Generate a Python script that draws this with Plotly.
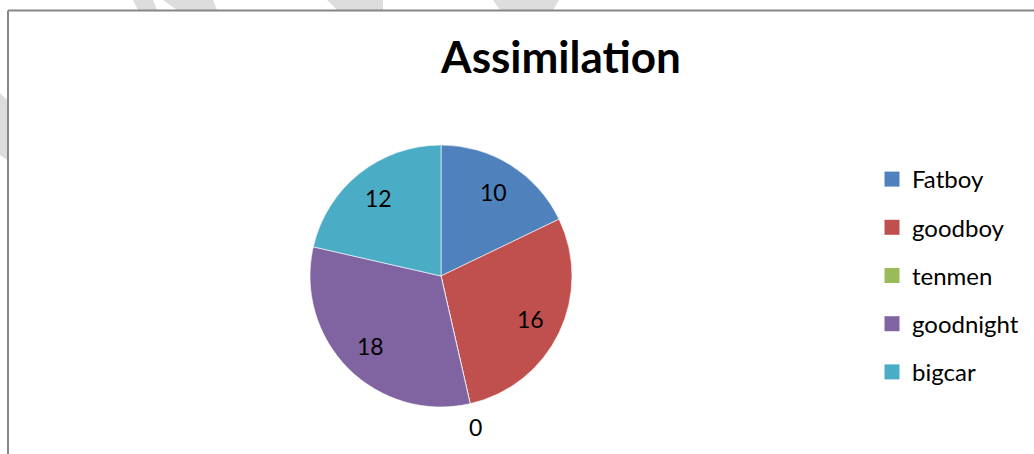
import math
import plotly.graph_objects as go

# Survey counts per item
labels = ["Fatboy", "goodboy", "tenmen", "goodnight", "bigcar"]
values = [10, 16, 0, 18, 12]
colors = ["#4F81BD", "#C0504D", "#9BBB59", "#8064A2", "#4BACC6"]

W, H = 1034, 454
FONT = "Lato"

# Pie placement (pixels)
PIE_CX, PIE_CY, PIE_R = 441, 276, 131

fig = go.Figure()

fig.add_trace(go.Pie(
    labels=labels,
    values=values,
    sort=False,
    direction="clockwise",
    rotation=0,
    marker=dict(colors=colors, line=dict(color="#ffffff", width=0.6)),
    textinfo="none",
    showlegend=False,
    domain=dict(x=[(PIE_CX - PIE_R) / W, (PIE_CX + PIE_R) / W],
                y=[1 - (PIE_CY + PIE_R) / H, 1 - (PIE_CY - PIE_R) / H]),
    hoverinfo="label+value",
))

# Value labels: inside at ~3/4 radius, empty slices just outside the rim
annotations = []
total = sum(values)
start = 0.0
for v in values:
    mid = (start + v / 2) / total * 2 * math.pi
    start += v
    r = PIE_R * (0.76 if v > 0 else 1.18)
    px = PIE_CX + r * math.sin(mid)
    py = PIE_CY - r * math.cos(mid)
    annotations.append(dict(
        x=px / W, y=1 - py / H, xref="paper", yref="paper",
        text=str(v), showarrow=False, xanchor="center", yanchor="middle",
        font=dict(family=FONT, size=23, color="#000000"),
    ))

# Legend entries, one group each so the spacing can be set
for name, col in zip(labels, colors):
    fig.add_trace(go.Scatter(
        x=[None], y=[None], mode="markers", name=name,
        legendgroup=name,
        marker=dict(symbol="square", size=15, color=col),
        hoverinfo="skip",
    ))

# Faint watermark strokes peeking out around the frame
watermark = [
    [(133, 0), (153, 0), (157, 10), (138, 10)],
    [(163, 0), (213, 0), (217, 10), (177, 10)],
    [(327, 0), (383, 0), (383, 10), (337, 10)],
    [(493, 0), (559, 0), (553, 10), (500, 10)],
    [(0, 93), (7, 100), (7, 160), (0, 155)],
]
shapes = []
for poly in watermark:
    path = "M " + " L ".join(f"{x / W},{1 - y / H}" for x, y in poly) + " Z"
    shapes.append(dict(type="path", xref="paper", yref="paper", path=path,
                       fillcolor="#dddddd", line=dict(width=0), layer="below"))

# Chart frame (top and left edges)
shapes.append(dict(type="line", xref="paper", yref="paper",
                   x0=8 / W, y0=1 - 10.5 / H, x1=1, y1=1 - 10.5 / H,
                   line=dict(color="#868686", width=2)))
shapes.append(dict(type="line", xref="paper", yref="paper",
                   x0=8 / W, y0=1 - 10.5 / H, x1=8 / W, y1=0,
                   line=dict(color="#868686", width=2)))

fig.update_layout(
    width=W, height=H,
    margin=dict(l=0, r=0, t=0, b=0),
    paper_bgcolor="#ffffff",
    plot_bgcolor="#ffffff",
    title=dict(
        text="<b>Assimilation</b>",
        x=561 / W, xanchor="center",
        y=1 - 58 / H, yanchor="middle",
        font=dict(family=FONT, size=44, color="#000000"),
    ),
    legend=dict(
        x=872 / W, xanchor="left",
        y=1 - 157 / H, yanchor="top",
        font=dict(family=FONT, size=24, color="#000000"),
        tracegroupgap=14,
        bgcolor="rgba(0,0,0,0)",
    ),
    xaxis=dict(visible=False),
    yaxis=dict(visible=False),
    annotations=annotations,
    shapes=shapes,
)

fig.write_html("out.html")
